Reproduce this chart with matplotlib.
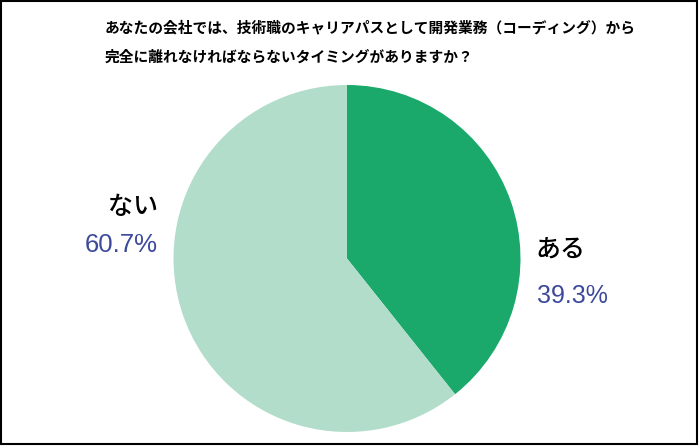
import matplotlib
matplotlib.use("Agg")
import matplotlib.pyplot as plt
from matplotlib.patches import Rectangle

plt.rcParams['font.family'] = ['Noto Sans CJK JP', 'DejaVu Sans']

title_lines = ["あなたの会社では、技術職のキャリアパスとして開発業務（コーディング）から",
               "完全に離れなければならないタイミングがありますか？"]
categories = ["ある", "ない"]
values = [39.3, 60.7]
colors = ["#1aa86b", "#b2ddcb"]

W, H = 700, 446
fig = plt.figure(figsize=(W / 100, H / 100), dpi=100)

# border frame
fig.patches.append(Rectangle((1 / W, 2 / H), 1 - 4 / W, 1 - 3 / H, transform=fig.transFigure,
                             fill=False, edgecolor="black", linewidth=1.5))

fig.text(105 / W, 1 - 27 / H, title_lines[0], fontsize=10.6, fontweight="bold", va="center", ha="left")
fig.text(105 / W, 1 - 57 / H, title_lines[1], fontsize=10.6, fontweight="bold", va="center", ha="left")

cx, cy, r = 347, 258.5, 173.5
ax = fig.add_axes([(cx - r) / W, 1 - (cy + r) / H, 2 * r / W, 2 * r / H])
ax.pie(values, colors=colors, startangle=90, counterclock=False,
       wedgeprops=dict(linewidth=0))
ax.set_xlim(-1, 1)
ax.set_ylim(-1, 1)
ax.set_aspect("equal")
ax.axis("off")

pct_color = "#3d4a9c"
pct_font = ['Liberation Sans', 'DejaVu Sans']
# ない label (left)
fig.text(133 / W, 1 - 207 / H, categories[1], fontsize=18, fontweight="medium", ha="center", va="center")
fig.text(121.5 / W, 1 - 245 / H, f"{values[1]}%", fontsize=18.5, family=pct_font, ha="center", va="center", color=pct_color)
# ある label (right)
fig.text(560 / W, 1 - 250 / H, categories[0], fontsize=18, fontweight="medium", ha="center", va="center")
fig.text(572 / W, 1 - 296 / H, f"{values[0]}%", fontsize=18, family=pct_font, ha="center", va="center", color=pct_color)

fig.savefig("out.png", dpi=100)
